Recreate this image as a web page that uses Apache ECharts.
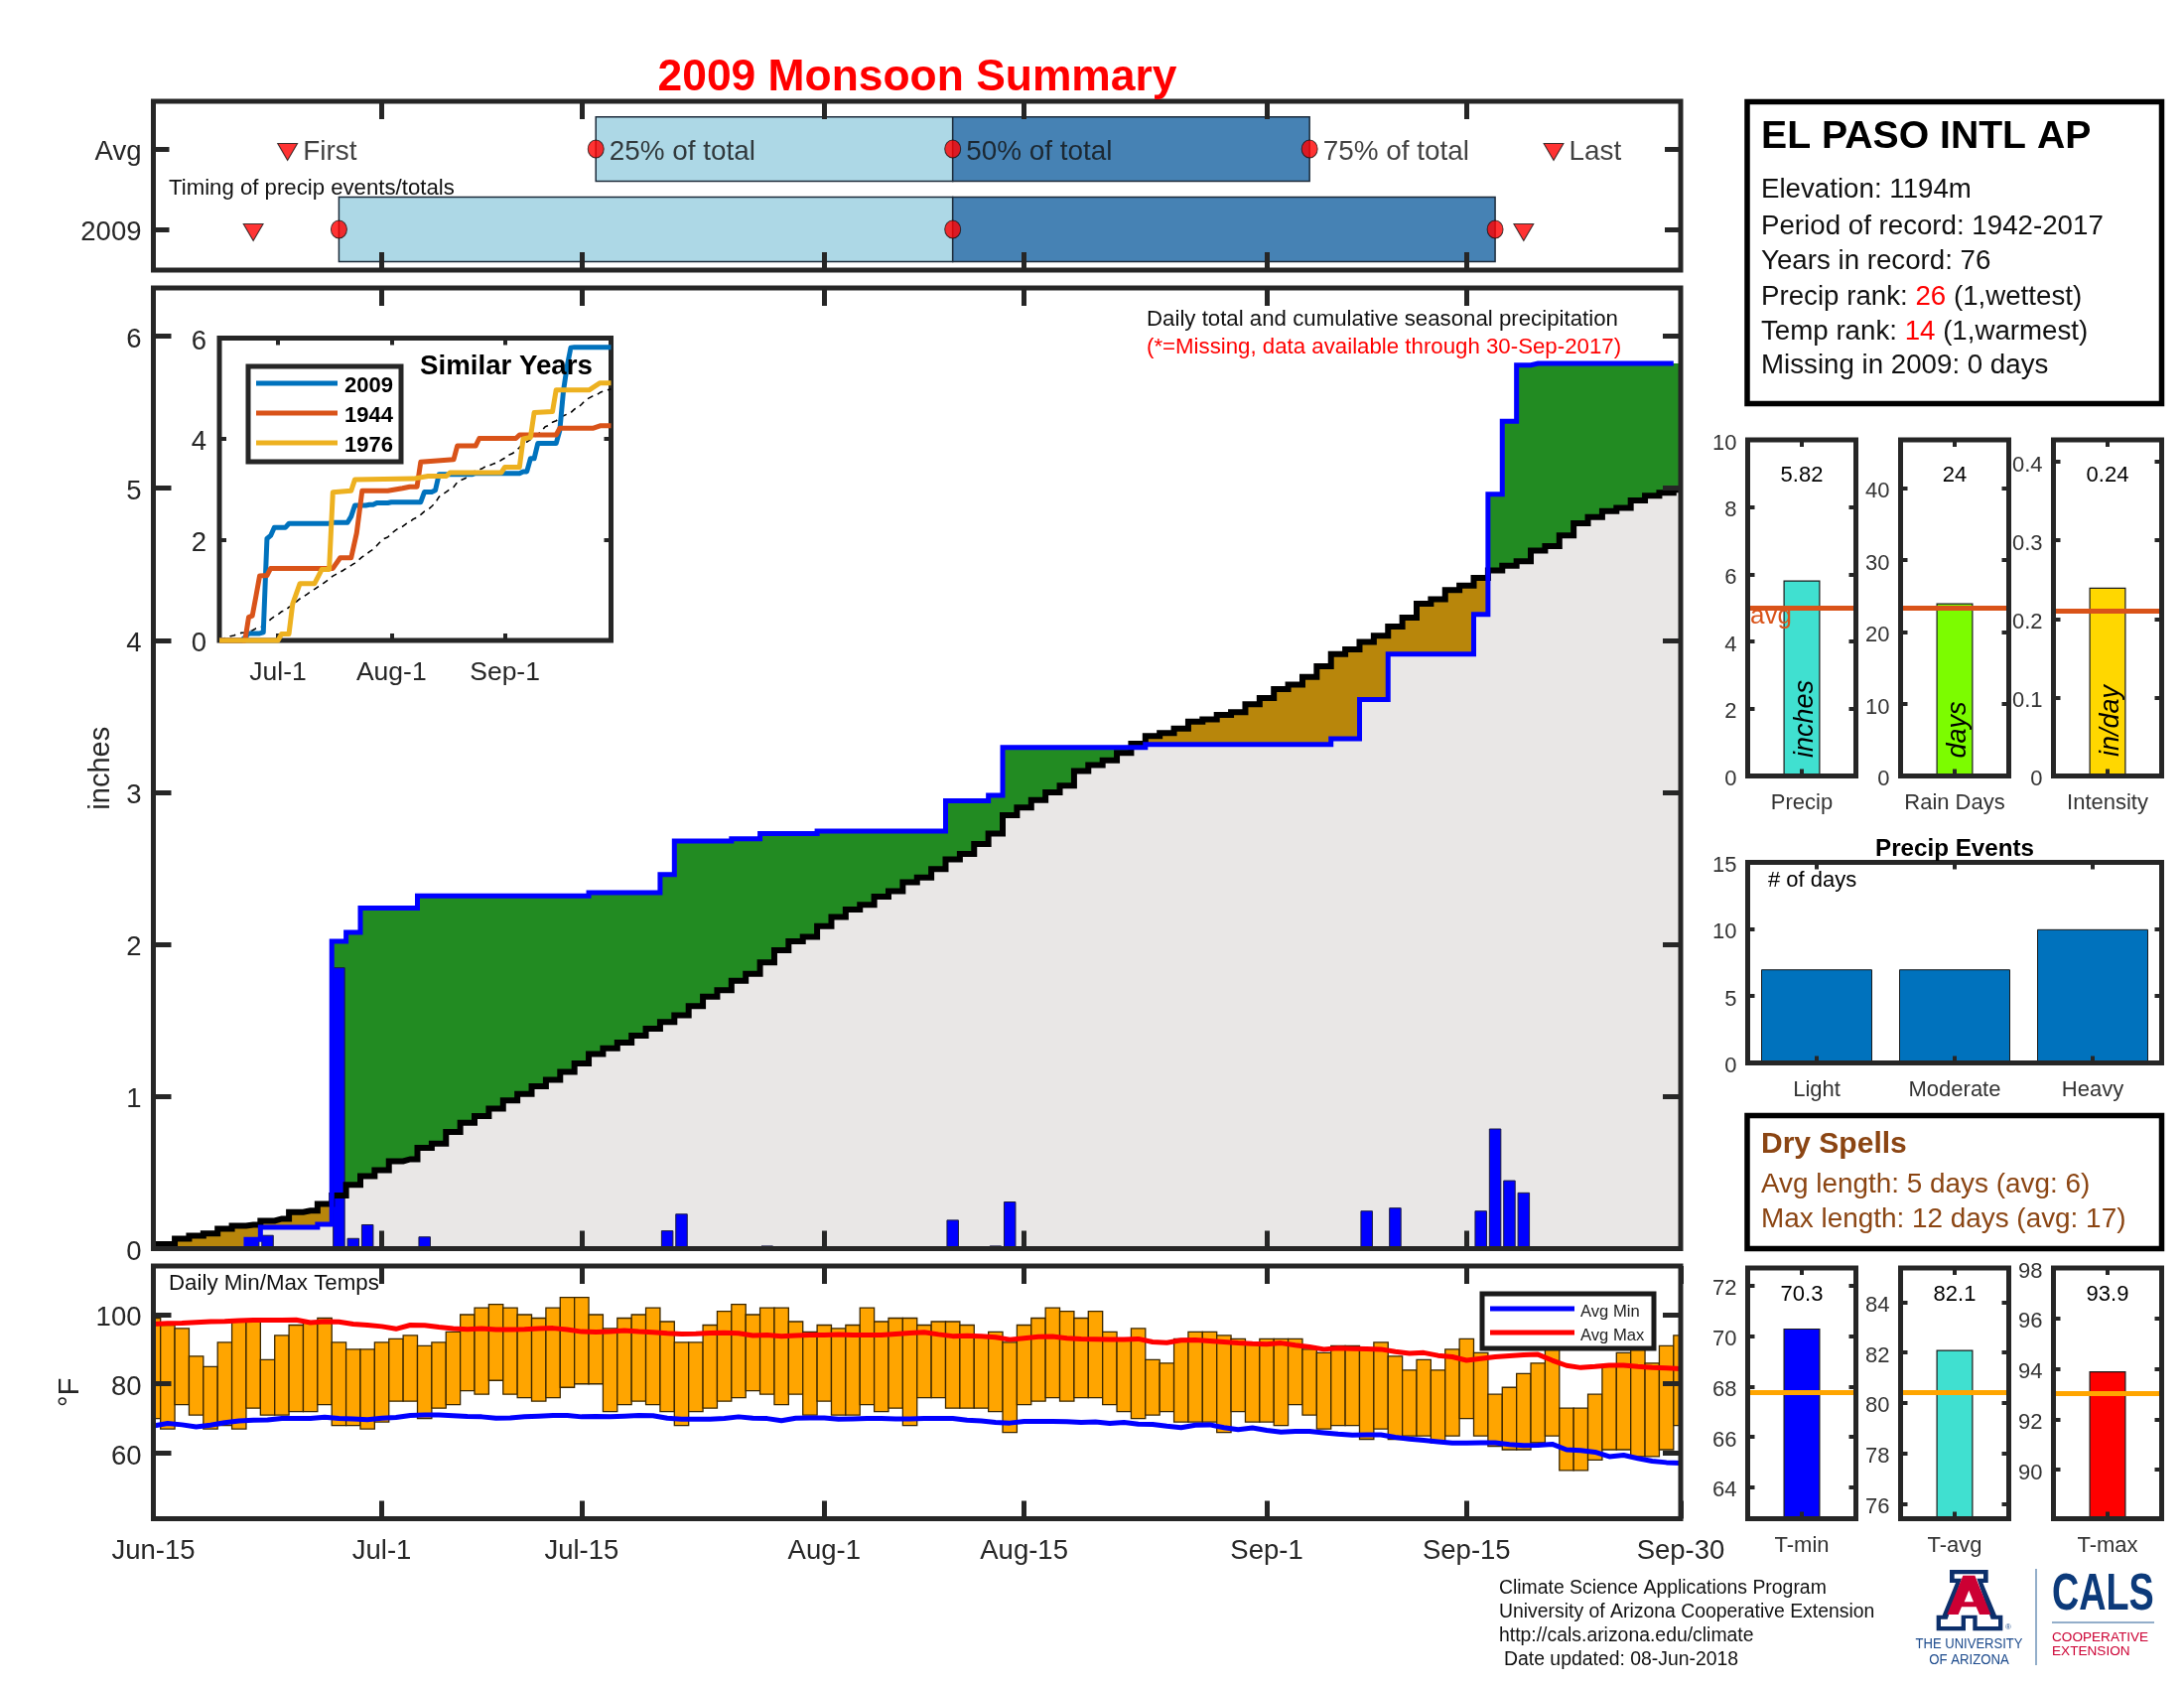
<!DOCTYPE html>
<html><head><meta charset="utf-8">
<script src="https://cdn.jsdelivr.net/npm/echarts@6/dist/echarts.min.js"></script>
<style>html,body{margin:0;padding:0;background:#fff}#c{width:2200px;height:1700px}</style>
</head><body><div id="c"></div>
<script>
// ---------- DATA ----------
const dateTickDays = [0,16,30,47,61,78,92,107];
const dateTickLabels = ['Jun-15','Jul-1','Jul-15','Aug-1','Aug-15','Sep-1','Sep-15','Sep-30'];
const insetTickDays = [16,47,78];
const insetTickLabels = ['Jul-1','Aug-1','Sep-1'];

const precipDaily = [
 0,0,0,0,0,0,0,.06,.09,0,
 0,0,.005,1.85,.07,.16,0,0,0,.08,
 0,0,0,0,0,0,0,0,0,0,
 0,.005,0,0,0,0,.12,.23,0,0,
 0,0,0,.02,0,0,0,0,0,0,
 0,0,0,0,0,0,.19,0,0,.02,
 .31,0,0,0,0,0,0,0,0,0,
 .01,0,0,0,0,0,0,0,0,0,
 0,0,0,.015,0,.25,0,.27,0,0,
 0,0,0,.25,.79,.45,.37,0,0,0,
 0,0,0,0,0,0,0,0];
const cum2009 = [
 0,0,0,0,0,0,0,.06,.14,.14,
 .14,.14,.16,2.02,2.08,2.24,2.24,2.24,2.24,2.32,
 2.32,2.32,2.32,2.32,2.32,2.32,2.32,2.32,2.32,2.32,
 2.32,2.34,2.34,2.34,2.34,2.34,2.46,2.68,2.68,2.68,
 2.68,2.695,2.695,2.73,2.73,2.73,2.73,2.745,2.745,2.745,
 2.745,2.745,2.745,2.745,2.745,2.745,2.945,2.945,2.945,2.98,
 3.296,3.296,3.296,3.296,3.296,3.296,3.296,3.296,3.296,3.296,
 3.316,3.316,3.316,3.316,3.316,3.316,3.316,3.316,3.316,3.316,
 3.316,3.316,3.316,3.352,3.352,3.61,3.61,3.91,3.91,3.91,
 3.91,3.91,3.91,4.17,4.96,5.44,5.81,5.82,5.82,5.82,
 5.82,5.82,5.82,5.82,5.82,5.82,5.82,5.82];
const cumAvg = [
 .03,.03,.065,.085,.10,.13,.15,.157,.183,.196,
 .24,.25,.294,.35,.42,.477,.516,.575,.588,.662,
 .69,.767,.828,.871,.92,.974,1.017,1.068,1.11,1.163,
 1.218,1.279,1.318,1.355,1.40,1.447,1.49,1.535,1.594,1.657,
 1.70,1.762,1.807,1.882,1.962,2.02,2.05,2.12,2.18,2.23,
 2.26,2.315,2.35,2.41,2.44,2.495,2.56,2.595,2.66,2.73,
 2.85,2.90,2.95,3.0,3.045,3.14,3.18,3.21,3.26,3.32,
 3.37,3.39,3.42,3.465,3.48,3.51,3.528,3.58,3.62,3.68,
 3.708,3.76,3.83,3.91,3.94,3.99,4.03,4.09,4.15,4.24,
 4.27,4.33,4.36,4.41,4.46,4.49,4.52,4.59,4.62,4.69,
 4.77,4.81,4.85,4.87,4.92,4.95,4.97,4.99];
const blueLineEndDay = 106.5;

const tMaxDaily = [
 99,97,96,88,85,92,98,98,87,94,97,98,99,92,90,90,92,93,94,91,92,95,
 100,102,103,102,100,99,102,105,105,100,96,99,100,102,98,92,92,97,101,103,
 100,102,102,98,95,97,96,97,102,98,99,99,97,98,98,97,94,95,92,97,99,102,
 101,99,101,95,93,96,87,86,93,95,95,94,93,92,93,93,93,90,89,91,91,90,
 92,88,84,87,84,90,93,89,77,79,83,86,90,73,73,77,85,89,90,86,91,94];
const tMinDaily = [
 70,67,74,71,67,68,67,73,71,71,72,72,74,68,68,67,69,75,75,70,73,74,
 78,77,81,77,76,75,76,79,80,80,72,74,75,74,72,68,72,73,75,76,
 78,77,74,77,71,75,71,71,74,72,73,68,76,76,73,73,73,72,66,74,75,76,
 75,76,76,74,72,70,71,72,69,69,69,66,72,69,69,68,74,71,67,68,68,64,
 67,64,65,65,63,65,70,65,62,61,61,63,65,55,55,58,61,61,59,59,61,68];
const tAvgMaxLine = [
 97.3,97.5,97.6,97.8,98,98.1,98.3,98.4,98.4,98.4,98.5,97.7,98,97.9,97.3,97,96.6,95.9,97,96.9,
 96.4,96,95.8,96,95.7,95.7,95.8,96,96.1,95.7,95.1,95,95.1,95.4,95.1,94.9,94.6,94.4,94.5,94.7,
 94.8,94.6,94,94.1,93.8,94,94.1,94.1,94.3,94.1,94.1,94.1,94.4,94.7,94.9,94.3,93.8,93.9,93.8,93.5,
 92.8,93.2,93.6,93.7,93.2,93,92.9,92.8,92.8,93,92.1,91.9,92.6,92.7,92.4,92.1,91.8,91.6,91.5,91.8,
 91.2,90.7,90,90.3,90.2,90.1,90,89.3,88.8,89,88.2,87.8,86.8,87.3,87.8,88.1,88.4,88.5,86.8,85.3,
 84.7,85,85.4,85.4,85,84.7,84.6,84.4];
const tAvgMinLine = [
 67.9,68.6,68.2,67.6,68.1,68.8,69.3,69.5,69.6,70,70,70,70.4,70,69.9,69.7,70.1,70.3,70.9,71,
 71,70.8,70.6,70.5,70.1,70.2,70.5,70.7,70.9,70.9,70.5,70.6,70.5,70.7,70.9,70.8,70.1,69.8,69.8,69.8,
 70,70.5,70.1,70,69.4,70.1,70.2,70.2,69.8,69.9,70,70,69.9,69.9,70,70,70,69.5,69.3,68.9,
 68.7,69.2,69.2,69.2,69.1,68.9,69,68.6,68.9,68.4,68.3,67.8,67.4,68.1,68.2,67.4,66.8,67.3,66.6,66.1,
 66.3,66.3,65.9,65.5,65.2,65.3,65.3,64.6,64.1,63.7,63.3,62.9,62.9,63,63,62.5,62.2,62.3,62.6,61,
 60.8,60.3,59,59.4,58.5,57.7,57.3,57.1];

const similar1944Days = [0,7,8,9,10,11,13,14,31,33,36,37.5,39,46,50,52,54,55,64,65,70,71,81,82,92,93,102,104,107];
const similar1944Vals = [0,0,.46,.49,.88,1.28,1.29,1.43,1.43,1.64,1.64,2.13,2.97,2.97,3.02,3.05,3.05,3.54,3.59,3.86,3.86,4.01,4.01,4.08,4.08,4.21,4.21,4.26,4.26];
const similar1976Days = [0,16,17,19,20,22,26,28,30,31,36,37,53,57,62,63,77,78,82,83,85,86,91,92,101,104,107];
const similar1976Vals = [0,0,.13,.13,.72,1.13,1.13,1.41,1.41,2.94,2.97,3.19,3.21,3.26,3.26,3.33,3.33,3.44,3.44,4.0,4.03,4.52,4.54,4.97,4.97,5.11,5.11];

const timingRows = [1,2];
const timingRowLabels = ['2009','Avg'];
const timingAvg = {first:9.4, q25:31, q50:56, q75:81, last:98.1};
const timing2009 = {first:7, q25:13, q50:56, q75:94, last:96};

const summaryNames = ['Precip','Rain Days','Intensity'];
const summaryValues = [5.82,24,0.24];
const summaryAverages = [5.0,23.3,0.2135];
const eventNames = ['Light','Moderate','Heavy'];
const eventDays = [7,7,10];
const tempNames = ['T-min','T-avg','T-max'];
const tempValues = [70.3,82.1,93.9];
const tempAverages = [67.75,80.43,93.03];

// ---------- HELPERS ----------
const F = '"Liberation Sans"';
const INK = '#262626';
const TEXT_DROP = 3;
const days = precipDaily.map((_,i)=>i);
const grids=[], xAxes=[], yAxes=[], series=[], gfx=[];
function panel(p){
  const g=grids.length;
  grids.push({left:p.l,top:p.t,width:p.r-p.l,height:p.b-p.t,show:true,z:20,borderColor:p.border||INK,borderWidth:p.bw||5,backgroundColor:'rgba(0,0,0,0)',containLabel:false});
  const ix=xAxes.length, iy=yAxes.length;
  const tw=p.tickW||5, tx=p.tickX||18, ty=p.tickY||18, fs=p.fs||27.5, lc=p.labelColor||INK;
  const base={gridIndex:g,z:21,splitLine:{show:false},axisLine:{show:false,onZero:false}};
  const xCommon = p.cat ? {type:'category',data:p.cat,boundaryGap:true} : {type:'value',min:p.xMin,max:p.xMax};
  const xTick = p.cat ? {show:true,inside:true,length:tx,alignWithLabel:true,lineStyle:{color:INK,width:tw}}
                      : {show:true,inside:true,length:tx,lineStyle:{color:INK,width:tw},customValues:p.xTicks};
  const xLab = p.cat ? {show:p.xLabels!==false,fontSize:p.xfs||fs,fontFamily:F,color:p.xColor||lc,margin:p.xm||16}
     : {show:!!p.xLabels,fontSize:p.xfs||fs,fontFamily:F,color:lc,margin:p.xm||19,customValues:p.xTicks,
        formatter:v=>{const i=p.xTicks.indexOf(v);return p.xLabels&&i>=0?p.xLabels[i]:'';}};
  xAxes.push(Object.assign({},base,xCommon,{position:'bottom',axisTick:xTick,axisLabel:xLab}));
  xAxes.push(Object.assign({},base,xCommon,{position:'top',axisTick:xTick,axisLabel:{show:false}}));
  const yCommon={type:'value',min:p.yMin,max:p.yMax};
  const yTick={show:true,inside:true,length:ty,lineStyle:{color:INK,width:tw},customValues:p.yTicks};
  yAxes.push(Object.assign({},base,yCommon,{position:'left',axisTick:yTick,
    name:p.yName||'',nameLocation:'middle',nameRotate:90,nameGap:p.yNameGap||50,
    nameTextStyle:{fontSize:29,fontFamily:F,color:INK},
    axisLabel:{show:true,fontSize:fs,fontFamily:F,color:lc,margin:p.ym||10,verticalAlign:'top',lineHeight:7,customValues:p.yTicks,
      formatter:v=>{const i=p.yTicks.indexOf(v);return i<0?'':(p.yLabels?p.yLabels[i]:String(v));}}}));
  yAxes.push(Object.assign({},base,yCommon,{position:'right',axisTick:yTick,axisLabel:{show:false}}));
  return {g,ix,iy};
}
function txt(x,y,text,o={}){
  gfx.push({type:'text',x,y:o.rot?y:y+TEXT_DROP,rotation:o.rot||0,scaleX:o.sx||1,z:60,silent:true,style:{text,fill:o.color||'#000',fontSize:o.size||22,fontFamily:o.family||F,
    fontWeight:o.weight||'normal',fontStyle:o.italic?'italic':'normal',align:o.align||'left',verticalAlign:'middle',rich:o.rich}});
}
function box(x,y,w,h,stroke,lw){
  gfx.push({type:'rect',z:55,silent:true,shape:{x,y,width:w,height:h},style:{fill:'#fff',stroke,lineWidth:lw}});
}
function seg(x1,y1,x2,y2,color,lw){
  gfx.push({type:'line',z:58,silent:true,shape:{x1,y1,x2,y2},style:{stroke:color,lineWidth:lw}});
}
function poly(points,fill){
  gfx.push({type:'polygon',z:58,silent:true,shape:{points},style:{fill}});
}

// ---------- TIMING PANEL ----------
const pT=panel({l:154.5,r:1693,t:102,b:272,xMin:0,xMax:107,xTicks:dateTickDays.slice(1,7),
  yMin:.494,yMax:2.593,yTicks:timingRows,yLabels:timingRowLabels,tickY:16,ym:12});
const timingData=[[2,timingAvg.q25,timingAvg.q50,timingAvg.q75],[1,timing2009.q25,timing2009.q50,timing2009.q75]];
series.push({type:'custom',xAxisIndex:pT.ix,yAxisIndex:pT.iy,z:2,clip:true,data:timingData,encode:{x:[1,2,3],y:0},
  renderItem(params,api){
    const r=api.value(0),a=api.value(1),b=api.value(2),c=api.value(3);
    const top=api.coord([a,r+.4])[1],bot=api.coord([a,r-.4])[1];
    const xa=api.coord([a,r])[0],xb=api.coord([b,r])[0],xc=api.coord([c,r])[0];
    const st={stroke:'#1c2b3a',lineWidth:1.5};
    return {type:'group',children:[
      {type:'rect',shape:{x:xa,y:top,width:xb-xa,height:bot-top},style:Object.assign({fill:'#ADD8E6'},st)},
      {type:'rect',shape:{x:xb,y:top,width:xc-xb,height:bot-top},style:Object.assign({fill:'#4682B4'},st)}]};
  }});
const lbl=(t,dy)=>({show:true,position:'right',distance:5,offset:[0,dy],formatter:t,fontSize:27.9,fontFamily:F,color:'#111'});
series.push({type:'scatter',xAxisIndex:pT.ix,yAxisIndex:pT.iy,z:5,symbol:'circle',symbolSize:[16,18],
  itemStyle:{color:'#f00',borderColor:'#111',borderWidth:1},clip:false,
  data:[{value:[timingAvg.q25,2],label:lbl('25% of total',3)},{value:[timingAvg.q50,2],label:lbl('50% of total',3)},{value:[timingAvg.q75,2],label:lbl('75% of total',3)},
        {value:[timing2009.q25,1]},{value:[timing2009.q50,1]},{value:[timing2009.q75,1]}]});
series.push({type:'scatter',xAxisIndex:pT.ix,yAxisIndex:pT.iy,z:5,symbol:'triangle',symbolRotate:180,symbolSize:[20,17],symbolOffset:[0,3],
  itemStyle:{color:'#f00',borderColor:'#111',borderWidth:1},
  data:[{value:[timingAvg.first,2],label:lbl('First',0)},{value:[timingAvg.last,2],label:lbl('Last',0)},
        {value:[timing2009.first,1]},{value:[timing2009.last,1]}]});
txt(170,187,'Timing of precip events/totals',{size:22.2,color:'#111'});

// ---------- MAIN PANEL ----------
const pM=panel({l:154.5,r:1693,t:290,b:1257.5,xMin:0,xMax:107,xTicks:dateTickDays.slice(1,7),
  yMin:0,yMax:6.317,yTicks:[0,1,2,3,4,5,6],ym:12,yName:'inches',yNameGap:35});
series.push({type:'custom',xAxisIndex:pM.ix,yAxisIndex:pM.iy,z:1,clip:true,
  data:days.map(d=>[d,cum2009[d],cumAvg[d]]),encode:{x:0,y:[1,2]},
  renderItem(params,api){
    const d=api.value(0),c=api.value(1),a=api.value(2);
    const x0=Math.round(api.coord([Math.max(d-.5,0),0])[0]),x1=Math.round(api.coord([Math.min(d+.5,107),0])[0]);
    const y0=api.coord([d,0])[1],yl=api.coord([d,Math.min(a,c)])[1],yh=api.coord([d,Math.max(a,c)])[1];
    return {type:'group',children:[
      {type:'rect',shape:{x:x0,y:yl,width:x1-x0,height:y0-yl},style:{fill:'#E9E7E6'}},
      {type:'rect',shape:{x:x0,y:yh,width:x1-x0,height:yl-yh},style:{fill:c>a?'#228B22':'#B8860B'}}]};
  }});
series.push({type:'bar',xAxisIndex:pM.ix,yAxisIndex:pM.iy,z:2,barWidth:12.5,
  itemStyle:{color:'#0000FF',borderColor:'#1a1a40',borderWidth:1},
  data:days.filter(d=>precipDaily[d]>0).map(d=>[d,precipDaily[d]])});
series.push({type:'line',xAxisIndex:pM.ix,yAxisIndex:pM.iy,z:3,step:'middle',showSymbol:false,
  lineStyle:{color:'#000',width:6,join:'miter'},data:days.map(d=>[d,cumAvg[d]])});
series.push({type:'line',xAxisIndex:pM.ix,yAxisIndex:pM.iy,z:4,step:'middle',showSymbol:false,
  lineStyle:{color:'#0000FF',width:5,join:'miter'},
  data:days.slice(0,107).map(d=>[d,cum2009[d]]).concat([[blueLineEndDay,cum2009[106]]])});
txt(1155,319,'Daily total and cumulative seasonal precipitation',{size:22.26,color:'#111'});
txt(1155,347,'(*=Missing, data available through 30-Sep-2017)',{size:22.26,color:'#f00'});

// ---------- INSET ----------
const pI=panel({l:221,r:615.5,t:340.5,b:645,xMin:0,xMax:107,xTicks:insetTickDays,xLabels:insetTickLabels,xfs:26.5,xm:19,tickX:7,
  yMin:0,yMax:6,yTicks:[0,2,4,6],tickY:7,ym:13,fs:27.5,tickW:4});
const insetLine=(x,y,c,w,extra)=>Object.assign({type:'line',xAxisIndex:pI.ix,yAxisIndex:pI.iy,showSymbol:false,clip:false,
  lineStyle:{color:c,width:w,join:'round'},data:x.map((d,i)=>[d,y[i]])},extra||{});
series.push(insetLine(days,cumAvg,'#000',1.6,{z:22,lineStyle:{color:'#000',width:1.6,type:[6,5]}}));
series.push(insetLine(days,cum2009,'#0072BD',5,{z:23}));
series.push(insetLine(similar1944Days,similar1944Vals,'#D95319',5,{z:24}));
series.push(insetLine(similar1976Days,similar1976Vals,'#EDB120',5,{z:25}));
box(250,369,154,96,INK,5);
[['2009','#0072BD',386],['1944','#D95319',416],['1976','#EDB120',446]].forEach(r=>{
  seg(258,r[2],340,r[2],r[1],5); txt(347,r[2],r[0],{size:22,weight:'bold'});
});
txt(423,366,'Similar Years',{size:27.7,weight:'bold'});

// ---------- TEMP PANEL ----------
const pD=panel({l:154.5,r:1693,t:1275,b:1529.5,xMin:0,xMax:107,xTicks:dateTickDays,xLabels:dateTickLabels,
  yMin:41.06,yMax:114.06,yTicks:[60,80,100],ym:12,yName:'°F',yNameGap:64});
series.push({type:'custom',xAxisIndex:pD.ix,yAxisIndex:pD.iy,z:1,clip:true,
  data:days.map(d=>[d,tMinDaily[d],tMaxDaily[d]]),encode:{x:0,y:[1,2]},
  renderItem(params,api){
    const d=api.value(0);
    const x0=api.coord([d-.5,0])[0],x1=api.coord([d+.5,0])[0];
    const y0=api.coord([d,api.value(1)])[1],y1=api.coord([d,api.value(2)])[1];
    return {type:'rect',shape:{x:x0,y:y1,width:x1-x0,height:y0-y1},style:{fill:'#FFA500',stroke:'#3a2600',lineWidth:1.3}};
  }});
series.push({type:'line',xAxisIndex:pD.ix,yAxisIndex:pD.iy,z:3,showSymbol:false,lineStyle:{color:'#FF0000',width:5},data:days.map(d=>[d,tAvgMaxLine[d]])});
series.push({type:'line',xAxisIndex:pD.ix,yAxisIndex:pD.iy,z:3,showSymbol:false,lineStyle:{color:'#0000FF',width:5},data:days.map(d=>[d,tAvgMinLine[d]])});
txt(170,1290,'Daily Min/Max Temps',{size:22.3,color:'#111'});
box(1493,1303,173,55,'#1a1a1a',5);
seg(1501,1318,1586,1318,'#0000FF',5); txt(1592,1318,'Avg Min',{size:16.6,color:'#222'});
seg(1501,1342,1586,1342,'#FF0000',5); txt(1592,1342,'Avg Max',{size:16.6,color:'#222'});

// ---------- SUMMARY BARS ----------
function miniBar(l,r,t,b,name,yMin,yMax,yTicks,val,avg,color,avgColor,labelY){
  const p=panel({l,r,t,b,cat:[name],yMin,yMax,yTicks,tickX:7,tickY:7,tickW:4,fs:22,xfs:22,ym:11,labelColor:'#333'});
  series.push({type:'bar',xAxisIndex:p.ix,yAxisIndex:p.iy,barWidth:37,z:3,
    itemStyle:{color,borderColor:'#1a1a1a',borderWidth:1.2},data:[val],
    markLine:{silent:true,animation:false,symbol:'none',label:{show:false},lineStyle:{color:avgColor,width:5,type:'solid'},data:[{yAxis:avg}]}});
  txt((l+r)/2,labelY,String(val),{size:22,align:'center'});
}
const colX=[[1760.5,1869.5],[1914.5,2023.5],[2068.5,2177.5]];
miniBar(colX[0][0],colX[0][1],443,781.5,summaryNames[0],0,10,[0,2,4,6,8,10],summaryValues[0],summaryAverages[0],'#40E0D0','#D95319',476);
miniBar(colX[1][0],colX[1][1],443,781.5,summaryNames[1],0,46.7,[0,10,20,30,40],summaryValues[1],summaryAverages[1],'#7CFC00','#D95319',476);
miniBar(colX[2][0],colX[2][1],443,781.5,summaryNames[2],0,.428,[0,.1,.2,.3,.4],summaryValues[2],summaryAverages[2],'#FFD700','#D95319',476);
txt(1763,618,'avg',{size:26,color:'#D95319'});
txt(1818,724,'inches',{size:27,italic:true,rot:Math.PI/2,align:'center'});
txt(1972,735,'days',{size:27,italic:true,rot:Math.PI/2,align:'center'});
txt(2126,726,'in/day',{size:27,italic:true,rot:Math.PI/2,align:'center'});

// ---------- EVENTS ----------
const pE=panel({l:1760.5,r:2177.5,t:868.5,b:1070.5,cat:eventNames,yMin:0,yMax:15,yTicks:[0,5,10,15],tickX:7,tickY:7,tickW:4,fs:22,xfs:22,ym:11,labelColor:'#333'});
series.push({type:'bar',xAxisIndex:pE.ix,yAxisIndex:pE.iy,barWidth:112,z:3,itemStyle:{color:'#0072BD',borderColor:'#1a1a1a',borderWidth:1},data:eventDays});
txt(1969,852,'Precip Events',{size:24.2,weight:'bold',align:'center'});
txt(1781,884,'# of days',{size:22});

// ---------- TEMP BARS ----------
miniBar(colX[0][0],colX[0][1],1277,1529.5,tempNames[0],62.75,72.7,[64,66,68,70,72],tempValues[0],tempAverages[0],'#0000FF','#FFA500',1301);
miniBar(colX[1][0],colX[1][1],1277,1529.5,tempNames[1],75.4,85.35,[76,78,80,82,84],tempValues[1],tempAverages[1],'#40E0D0','#FFA500',1301);
miniBar(colX[2][0],colX[2][1],1277,1529.5,tempNames[2],88.05,98,[90,92,94,96,98],tempValues[2],tempAverages[2],'#FF0000','#FFA500',1301);

// ---------- TEXT BOXES ----------
txt(924,76,'2009 Monsoon Summary',{size:44.4,weight:'bold',color:'#f00',align:'center'});
box(1760,102.5,417.5,304,'#000',5.5);
txt(1774,135,'EL PASO INTL AP',{size:39.2,weight:'bold'});
const rt={k:{fill:'#111',fontSize:27.7,fontFamily:F},r:{fill:'#f00',fontSize:27.7,fontFamily:F}};
txt(1774,188,'Elevation: 1194m',{size:27.7,color:'#111'});
txt(1774,225,'Period of record: 1942-2017',{size:27.7,color:'#111'});
txt(1774,260,'Years in record: 76',{size:27.7,color:'#111'});
txt(1774,296,'{k|Precip rank: }{r|26}{k| (1,wettest)}',{size:27.7,rich:rt});
txt(1774,331,'{k|Temp rank: }{r|14}{k| (1,warmest)}',{size:27.7,rich:rt});
txt(1774,365,'Missing in 2009: 0 days',{size:27.7,color:'#111'});
box(1760,1123.5,417.5,134,'#000',5.5);
txt(1774,1150,'Dry Spells',{size:30,weight:'bold',color:'#8B4513'});
txt(1774,1190,'Avg length: 5 days (avg: 6)',{size:27.9,color:'#8B4513'});
txt(1774,1225,'Max length: 12 days (avg: 17)',{size:27.9,color:'#8B4513'});

// ---------- FOOTER ----------
['Climate Science Applications Program','University of Arizona Cooperative Extension','http://cals.arizona.edu/climate'].forEach((t,i)=>{
  txt(1510,[1597,1621,1645][i],t,{size:19.4,color:'#111'});
});
txt(1515,1669,'Date updated: 08-Jun-2018',{size:19.4,color:'#111'});

// logo
const zp=a=>a.map(p=>[1920+p[0]/3,1570+p[1]/3]);
poly(zp([[132,33],[248,33],[248,72],[232,72],[273,170],[292,170],[292,217],[202,217],[202,180],[180,180],[180,217],[92,217],[92,170],[110,170],[150,72],[132,72]]),'#0C2F6B');
poly(zp([[146,46],[234,46],[234,59],[214,59],[257,182],[279,182],[279,204],[215,204],[215,170],[167,170],[167,204],[105,204],[105,182],[125,182],[168,59],[146,59]]),'#fff');
poly(zp([[172,50],[208,50],[256,168],[222,168],[212,145],[168,145],[158,168],[124,168]]),'#CC0033');
poly(zp([[190,95],[204,130],[176,130]]),'#fff');
txt(1983.5,1653,'THE UNIVERSITY',{size:15,color:'#1c4a8c',align:'center',sx:.87});
txt(1983.5,1669,'OF ARIZONA',{size:15,color:'#1c4a8c',align:'center',sx:.88});
txt(2023,1636,'®',{size:8,color:'#1c4a8c',align:'center'});
seg(2051,1580,2051,1677,'#6f93b8',1.5);
txt(2067,1604,'CALS',{size:51,weight:'bold',color:'#0C3A7A',sx:.74});
seg(2067,1634,2170,1634,'#6f93b8',1.5);
txt(2067,1646,'COOPERATIVE',{size:13.6,color:'#CC0033'});
txt(2067,1660,'EXTENSION',{size:13.6,color:'#CC0033'});

// ---------- CHART ----------
const chart=echarts.init(document.getElementById('c'),null,{renderer:'canvas',width:2200,height:1700});
chart.setOption({animation:false,backgroundColor:'#fff',grid:grids,xAxis:xAxes,yAxis:yAxes,series,graphic:{elements:gfx},tooltip:{show:false}});
</script></body></html>
